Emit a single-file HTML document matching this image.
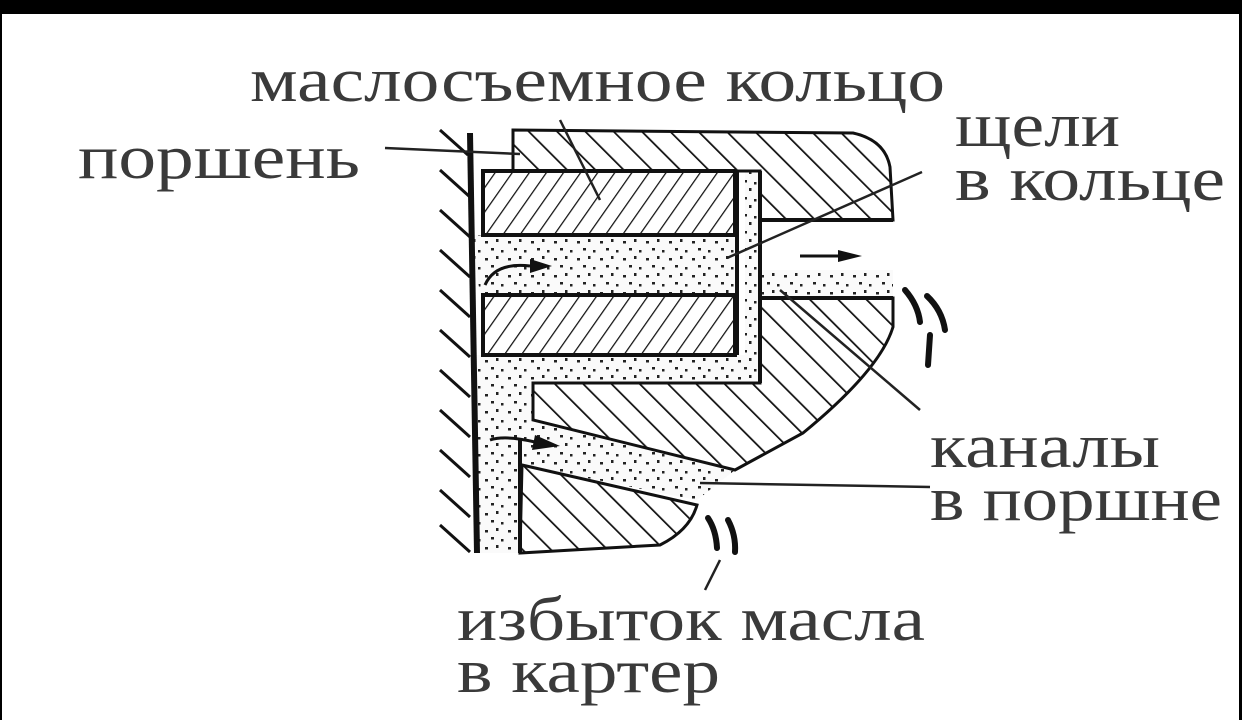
<!DOCTYPE html>
<html><head><meta charset="utf-8"><style>
html,body{margin:0;padding:0;background:#000;}
#c{position:absolute;left:0;top:0;width:1242px;height:720px;background:#000;}
svg{position:absolute;left:0;top:0;}
</style></head><body><div id="c">
<svg width="1242" height="720" viewBox="0 0 1242 720" xmlns="http://www.w3.org/2000/svg">
<defs>
<pattern id="hb" patternUnits="userSpaceOnUse" width="20" height="20" patternTransform="rotate(-45)">
<rect width="20" height="20" fill="#fff"/><line x1="0" y1="0" x2="0" y2="20" stroke="#111" stroke-width="3.5"/></pattern>
<pattern id="hf" patternUnits="userSpaceOnUse" width="14" height="14" patternTransform="rotate(35)">
<rect width="14" height="14" fill="#fff"/><line x1="0" y1="0" x2="0" y2="14" stroke="#111" stroke-width="2.5"/></pattern>
<pattern id="dots" patternUnits="userSpaceOnUse" width="23" height="17">
<rect width="23" height="17" fill="#fafafa"/>
<rect x="2" y="3" width="3" height="2.5" fill="#222"/><rect x="13" y="1" width="2.5" height="3" fill="#222"/>
<rect x="8" y="10" width="3" height="2.5" fill="#222"/><rect x="18" y="12" width="2.5" height="2.5" fill="#222"/></pattern>
</defs>
<rect x="2" y="14" width="1237" height="706" fill="#fff"/>
<g font-family="Liberation Serif, DejaVu Serif, serif" fill="#3a3a3a" font-size="62">
<text x="250" y="101" textLength="695" lengthAdjust="spacingAndGlyphs">маслосъемное кольцо</text>
<text x="78" y="178" textLength="282" lengthAdjust="spacingAndGlyphs">поршень</text>
<text x="955" y="146" textLength="165" lengthAdjust="spacingAndGlyphs">щели</text>
<text x="955" y="200" textLength="270" lengthAdjust="spacingAndGlyphs">в кольце</text>
<text x="930" y="467" textLength="230" lengthAdjust="spacingAndGlyphs">каналы</text>
<text x="930" y="520" textLength="292" lengthAdjust="spacingAndGlyphs">в поршне</text>
<text x="457" y="640" textLength="468" lengthAdjust="spacingAndGlyphs">избыток масла</text>
<text x="457" y="692" textLength="263" lengthAdjust="spacingAndGlyphs">в картер</text>
</g>
<g stroke="#111" stroke-width="3">
<line x1="440" y1="130" x2="468" y2="155"/><line x1="440" y1="170" x2="470" y2="197"/>
<line x1="440" y1="210" x2="470" y2="237"/><line x1="440" y1="250" x2="470" y2="277"/>
<line x1="440" y1="290" x2="470" y2="317"/><line x1="440" y1="330" x2="470" y2="357"/>
<line x1="440" y1="370" x2="470" y2="397"/><line x1="440" y1="410" x2="470" y2="437"/>
<line x1="440" y1="450" x2="470" y2="477"/><line x1="440" y1="490" x2="470" y2="517"/>
<line x1="440" y1="525" x2="470" y2="552"/>
</g>
<path d="M472 235 L735 235 L735 295 L480 295 Z" fill="url(#dots)"/>
<path d="M745 171 L760 171 L760 383 L533 383 L533 420 L735 470 L697 500 L522 465 L522 553 L477 553 L477 355 L745 355 Z" fill="url(#dots)"/>
<path d="M760 270 L893 270 L893 298 L760 298 Z" fill="url(#dots)"/>
<path d="M513 130 L853 133 Q885 140 890 167 L893 220 L760 220 L760 171 L513 171 Z" fill="url(#hb)" stroke="#111" stroke-width="3"/>
<path d="M760 298 L893 298 L893 327 Q880 370 803 433 L735 470 L533 420 L533 383 L760 383 Z" fill="url(#hb)" stroke="#111" stroke-width="3"/>
<path d="M522 465 L697 505 Q690 530 660 545 L520 553 Z" fill="url(#hb)" stroke="#111" stroke-width="3"/>
<rect x="483" y="171" width="252" height="64" fill="url(#hf)" stroke="#111" stroke-width="4"/>
<rect x="483" y="295" width="252" height="60" fill="url(#hf)" stroke="#111" stroke-width="4"/>
<line x1="737" y1="171" x2="737" y2="355" stroke="#111" stroke-width="4"/>
<line x1="760" y1="171" x2="760" y2="383" stroke="#111" stroke-width="4"/>
<line x1="760" y1="220" x2="893" y2="220" stroke="#111" stroke-width="4"/>
<line x1="760" y1="298" x2="893" y2="298" stroke="#111" stroke-width="4"/>
<line x1="470" y1="133" x2="477" y2="553" stroke="#111" stroke-width="6"/>
<line x1="520" y1="440" x2="520" y2="553" stroke="#111" stroke-width="4"/>
<g stroke="#111" stroke-width="3" fill="none">
<path d="M485 285 Q495 262 530 266"/><path d="M800 256 L840 256"/>
<path d="M490 440 Q505 435 535 442"/>
</g>
<g fill="#111"><path d="M530 259 L552 266 L530 273 Z"/><path d="M838 250 L862 256 L838 262 Z"/><path d="M535 435 L560 446 L532 450 Z"/></g>
<g stroke="#111" stroke-width="6" fill="none" stroke-linecap="round">
<path d="M905 290 Q918 305 920 322"/><path d="M927 296 Q942 310 945 330"/><path d="M930 335 L928 365"/>
<path d="M708 518 Q716 530 717 548"/><path d="M728 520 Q736 535 735 552"/>
</g>
<g stroke="#222" stroke-width="2.5">
<line x1="385" y1="148" x2="520" y2="154"/>
<line x1="560" y1="120" x2="600" y2="200"/>
<line x1="922" y1="172" x2="727" y2="258"/>
<line x1="780" y1="290" x2="920" y2="410"/>
<line x1="700" y1="483" x2="930" y2="487"/>
<line x1="720" y1="560" x2="705" y2="590"/>
</g>
</svg>
</div></body></html>
